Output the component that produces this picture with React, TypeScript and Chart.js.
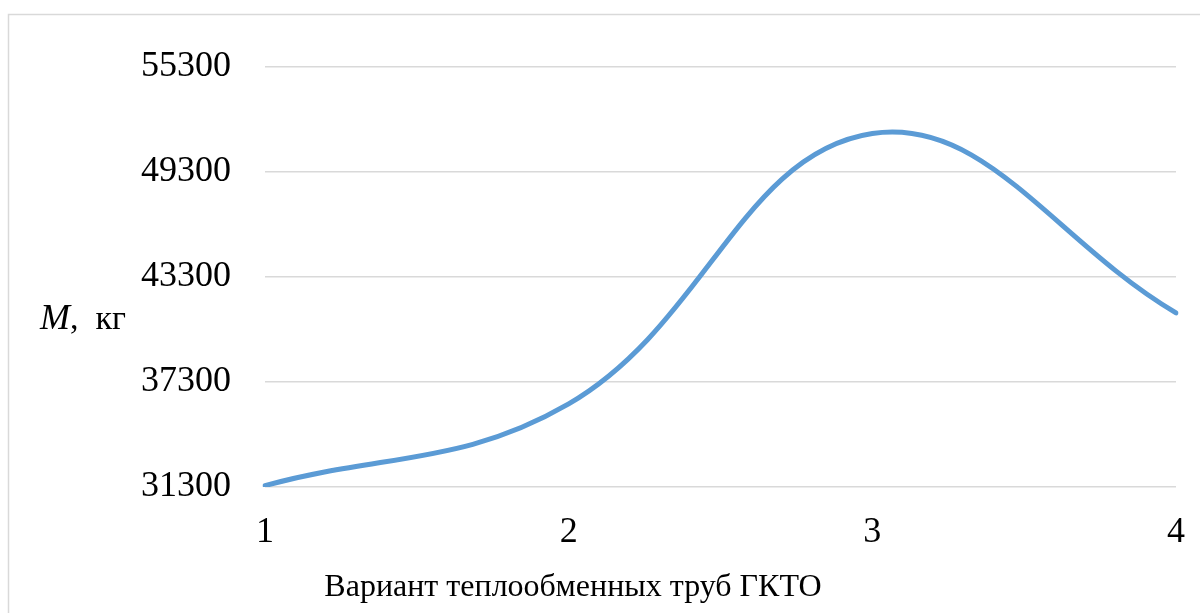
import React, { useEffect, useRef } from "react";
import { Chart, registerables } from "chart.js";

Chart.register(...registerables);

const categories: string[] = ["1", "2", "3", "4"];
const massValues: number[] = [31380, 36050, 51500, 41250];
const yMin = 31300;
const yMax = 55300;
const yStep = 6000;
const xTitle = "Вариант теплообменных труб ГКТО";
const yTitleItalic = "M";
const yTitleRest = ", кг";

const SERIF = "'Liberation Serif', 'Times New Roman', serif";

const textPlugin = {
  id: "customTexts",
  beforeDraw(chart: any) {
    const ctx = chart.ctx;
    ctx.save();
    ctx.strokeStyle = "#d9d9d9";
    ctx.lineWidth = 1.5;
    ctx.strokeRect(8.5, 14.5, 1300, 700);
    ctx.restore();
  },
  afterDraw(chart: any) {
    const ctx = chart.ctx;
    ctx.save();
    ctx.fillStyle = "#000000";
    ctx.textBaseline = "alphabetic";
    ctx.textAlign = "left";
    ctx.font = `italic 36px ${SERIF}`;
    const mx = 40;
    const my = 329;
    ctx.fillText(yTitleItalic, mx, my);
    const w = ctx.measureText(yTitleItalic).width;
    ctx.font = `34px ${SERIF}`;
    ctx.fillText(yTitleRest.replace(", ", ",  "), mx + w, my);
    ctx.font = `32px ${SERIF}`;
    ctx.textAlign = "center";
    ctx.fillText(xTitle, 573, 596);
    ctx.restore();
  },
};

export default function App() {
  const ref = useRef<HTMLCanvasElement | null>(null);
  useEffect(() => {
    if (!ref.current) return;
    const chart = new Chart(ref.current, {
      type: "line",
      data: {
        labels: categories,
        datasets: [
          {
            data: massValues,
            borderColor: "#5b9bd5",
            borderWidth: 5,
            pointRadius: 0,
            fill: false,
            tension: 0.4,
            borderCapStyle: "round",
          },
        ],
      },
      options: {
        animation: false,
        responsive: false,
        layout: { padding: { top: 67, right: 24, left: 0, bottom: 0 } },
        plugins: { legend: { display: false }, tooltip: { enabled: false } },
        scales: {
          x: {
            grid: { display: false, drawTicks: false },
            border: { display: false },
            ticks: {
              color: "#000000",
              font: { family: SERIF, size: 36 },
              padding: 24,
              maxRotation: 0,
            },
            afterFit(scale: any) {
              scale.height = 613 - 487;
              scale.paddingRight = 0;
              scale.paddingLeft = 0;
            },
          },
          y: {
            min: yMin,
            max: yMax,
            grid: { color: "#d9d9d9", lineWidth: 1.5, drawTicks: false },
            border: { display: false },
            ticks: {
              stepSize: yStep,
              color: "#000000",
              font: { family: SERIF, size: 36 },
              padding: 34,
              callback: (v: any) => String(v),
            },
            afterFit(scale: any) {
              scale.width = 265;
              scale.paddingTop = 0;
              scale.paddingBottom = 0;
            },
          },
        },
      },
      plugins: [textPlugin],
    });
    return () => chart.destroy();
  }, []);
  return (
    <canvas
      ref={ref}
      width={1200}
      height={613}
      style={{ position: "absolute", left: 0, top: 0, display: "block" }}
    />
  );
}
